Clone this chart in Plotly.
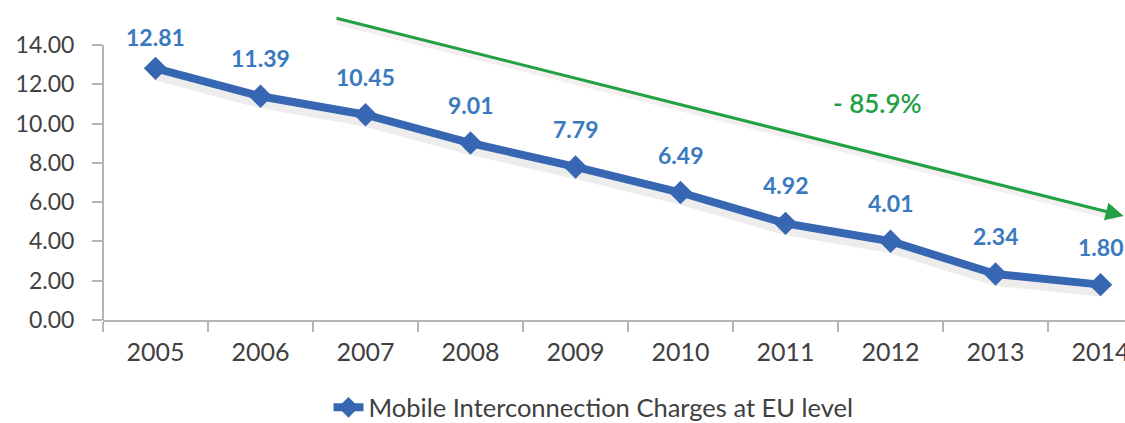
import plotly.graph_objects as go

# Mobile interconnection charges at EU level (euro cents per minute)
years = ["2005", "2006", "2007", "2008", "2009", "2010", "2011", "2012", "2013", "2014"]
charges = [12.81, 11.39, 10.45, 9.01, 7.79, 6.49, 4.92, 4.01, 2.34, 1.80]
y_ticks = [0, 2, 4, 6, 8, 10, 12, 14]
y_tick_labels = [f"{v:.2f}" for v in y_ticks]
change_label = "- 85.9%"
series_name = "Mobile Interconnection Charges at EU level"

LINE_BLUE = "#3767b3"
LABEL_BLUE = "#3a79c0"
GREEN = "#22a043"
AXIS_GREY = "#b4b4b4"
TEXT_GREY = "#404040"
FONT = "Lato"

fig = go.Figure()

# soft drop shadow under the series line
fig.add_trace(go.Scatter(
    x=years, y=[v - 0.25 for v in charges],
    mode="lines",
    line=dict(color="rgba(0,0,0,0.07)", width=14),
    hoverinfo="skip", showlegend=False,
))

fig.add_trace(go.Scatter(
    x=years, y=charges,
    mode="lines+markers",
    name=series_name,
    line=dict(color=LINE_BLUE, width=8),
    marker=dict(symbol="diamond", size=18, color=LINE_BLUE),
))

# value labels above each point (category index used as x position)
for i, v in enumerate(charges):
    fig.add_annotation(
        x=i, y=v, xref="x", yref="y", text=f"{v:.2f}", showarrow=False,
        yshift=31 if i == 0 else 38,
        font=dict(family=FONT, size=23, color=LABEL_BLUE, weight="bold"),
    )

# y axis line stops at the last tick value
fig.add_shape(type="line", xref="paper", yref="y",
              x0=0, x1=0, y0=-0.5, y1=y_ticks[-1],
              line=dict(color=AXIS_GREY, width=2))

# overall trend arrow (with a faint shadow) and percentage change
fig.add_annotation(
    xref="x", yref="y", axref="x", ayref="y",
    x=9.15, y=5.2, ax=1.71, ay=15.2,
    text="", showarrow=True, arrowhead=0,
    arrowwidth=6, arrowcolor="rgba(200,150,150,0.15)",
)
fig.add_annotation(
    xref="x", yref="y", axref="x", ayref="y",
    x=9.22, y=5.3, ax=1.71, ay=15.38,
    text="", showarrow=True,
    arrowhead=2, arrowsize=1.2, arrowwidth=3, arrowcolor=GREEN,
)
fig.add_annotation(
    x=6.88, y=11.05, xref="x", yref="y",
    text=change_label, showarrow=False,
    font=dict(family=FONT, size=26, color=GREEN, weight=600),
)

fig.update_layout(
    width=1125, height=423,
    margin=dict(l=103, r=0, t=0, b=103, autoexpand=False),
    paper_bgcolor="white", plot_bgcolor="white",
    font=dict(family=FONT, color=TEXT_GREY),
    showlegend=True,
    legend=dict(
        orientation="h",
        xref="container", x=0.292, xanchor="left",
        yref="container", y=0.036, yanchor="middle",
        font=dict(family=FONT, size=25.5, color=TEXT_GREY),
        bgcolor="rgba(0,0,0,0)",
    ),
    xaxis=dict(
        type="category", range=[-0.5, 9.233],
        showline=True, linecolor=AXIS_GREY, linewidth=2,
        ticks="outside", tickson="boundaries", ticklen=10,
        tickcolor=AXIS_GREY, tickwidth=2,
        showgrid=False, zeroline=False,
        tickfont=dict(family=FONT, size=25, color=TEXT_GREY),
        ticklabelstandoff=9,
    ),
    yaxis=dict(
        range=[0, 16.29],
        tickvals=y_ticks, ticktext=y_tick_labels,
        showline=False, ticks="outside", ticklen=10,
        tickcolor=AXIS_GREY, tickwidth=2,
        showgrid=False, zeroline=False,
        tickfont=dict(family=FONT, size=23, color=TEXT_GREY),
        ticklabelstandoff=13,
    ),
)

fig.write_html("out.html")
